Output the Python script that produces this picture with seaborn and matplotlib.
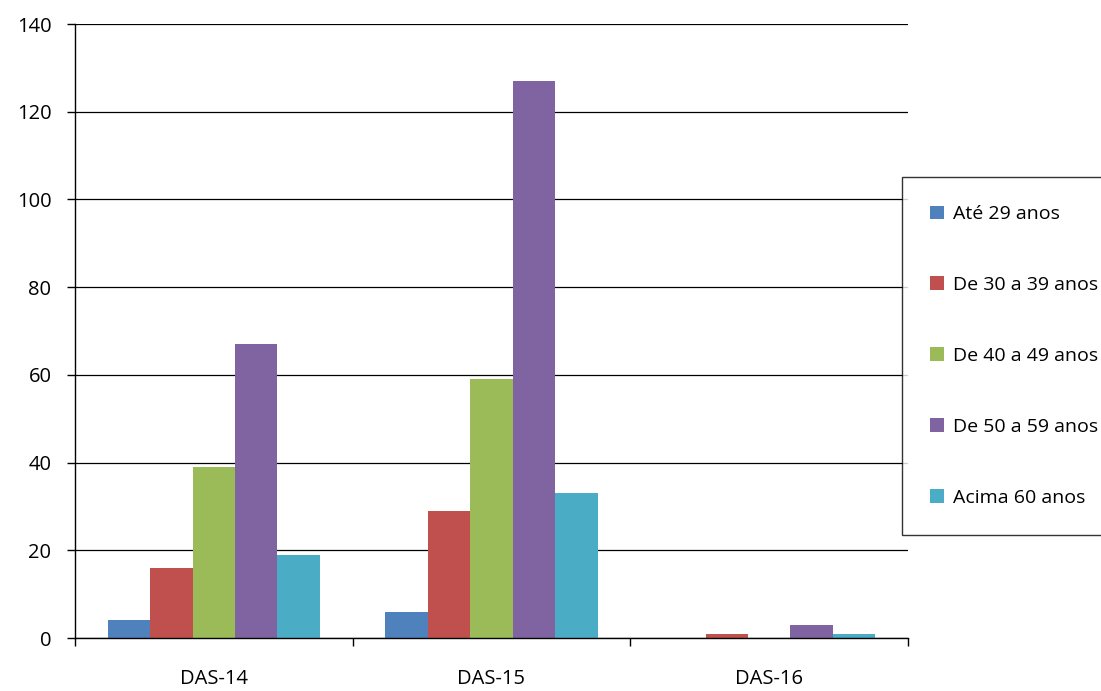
import matplotlib
matplotlib.use("Agg")
import matplotlib.pyplot as plt
import seaborn as sns
import pandas as pd

categories = ["DAS-14", "DAS-15", "DAS-16"]
series_names = ["Até 29 anos", "De 30 a 39 anos", "De 40 a 49 anos", "De 50 a 59 anos", "Acima 60 anos"]
ate29 = [4, 6, 0]
de30 = [16, 29, 1]
de40 = [39, 59, 0]
de50 = [67, 127, 3]
acima60 = [19, 33, 1]
colors = ["#4F81BD", "#C0504D", "#9BBB59", "#8064A2", "#4BACC6"]

values = [ate29, de30, de40, de50, acima60]
rows = []
for name, vals in zip(series_names, values):
    for cat, v in zip(categories, vals):
        rows.append({"cat": cat, "serie": name, "valor": v})
df = pd.DataFrame(rows)

sns.set_theme(style="white")
plt.rcParams["font.family"] = ["Open Sans", "DejaVu Sans"]

fig = plt.figure(figsize=(11.01, 6.91), dpi=100)
ax = fig.add_axes([75/1101, 1-638/691, (908-75)/1101, (638-24)/691])

sns.barplot(data=df, x="cat", y="valor", hue="serie", hue_order=series_names,
            order=categories, palette=colors, saturation=1, width=0.764,
            edgecolor="none", linewidth=0, ax=ax, legend=True)

ax.set_ylim(0, 140)
ax.set_xlim(-0.5, 2.5)
ax.set_yticks(range(0, 141, 20))
ax.yaxis.grid(True, color="#000000", linewidth=0.9)
ax.set_axisbelow(True)
ax.set_xlabel("")
ax.set_ylabel("")
for s in ["top", "right"]:
    ax.spines[s].set_visible(False)
ax.spines["left"].set_color("black")
ax.spines["bottom"].set_color("black")
ax.spines["left"].set_linewidth(1.0)
ax.spines["bottom"].set_linewidth(1.0)

ax.tick_params(axis="y", which="major", left=True, length=6, width=1, color="black",
               labelsize=14.5, pad=11, labelcolor="black")
ax.set_xticks([-0.5, 0.5, 1.5, 2.5], minor=True)
ax.tick_params(axis="x", which="minor", bottom=True, length=6, width=1, color="black")
ax.tick_params(axis="x", which="major", bottom=False, labelsize=14.5, pad=16, labelcolor="black")

ax.get_legend().remove()
handles = [plt.Rectangle((0, 0), 1, 1, facecolor=c, edgecolor="none") for c in colors]
leg = fig.legend(handles, series_names, loc="upper left",
                 bbox_to_anchor=(902/1101, 1-177/691), bbox_transform=fig.transFigure,
                 frameon=True, fancybox=False, fontsize=14, labelspacing=2.72,
                 handlelength=0.7, handleheight=0.7, handletextpad=0.45,
                 borderpad=1.45, borderaxespad=0)
leg.get_frame().set_edgecolor("black")
leg.get_frame().set_linewidth(1.0)
for t in leg.get_texts():
    t.set_color("black")

fig.savefig("out.png", dpi=100)
